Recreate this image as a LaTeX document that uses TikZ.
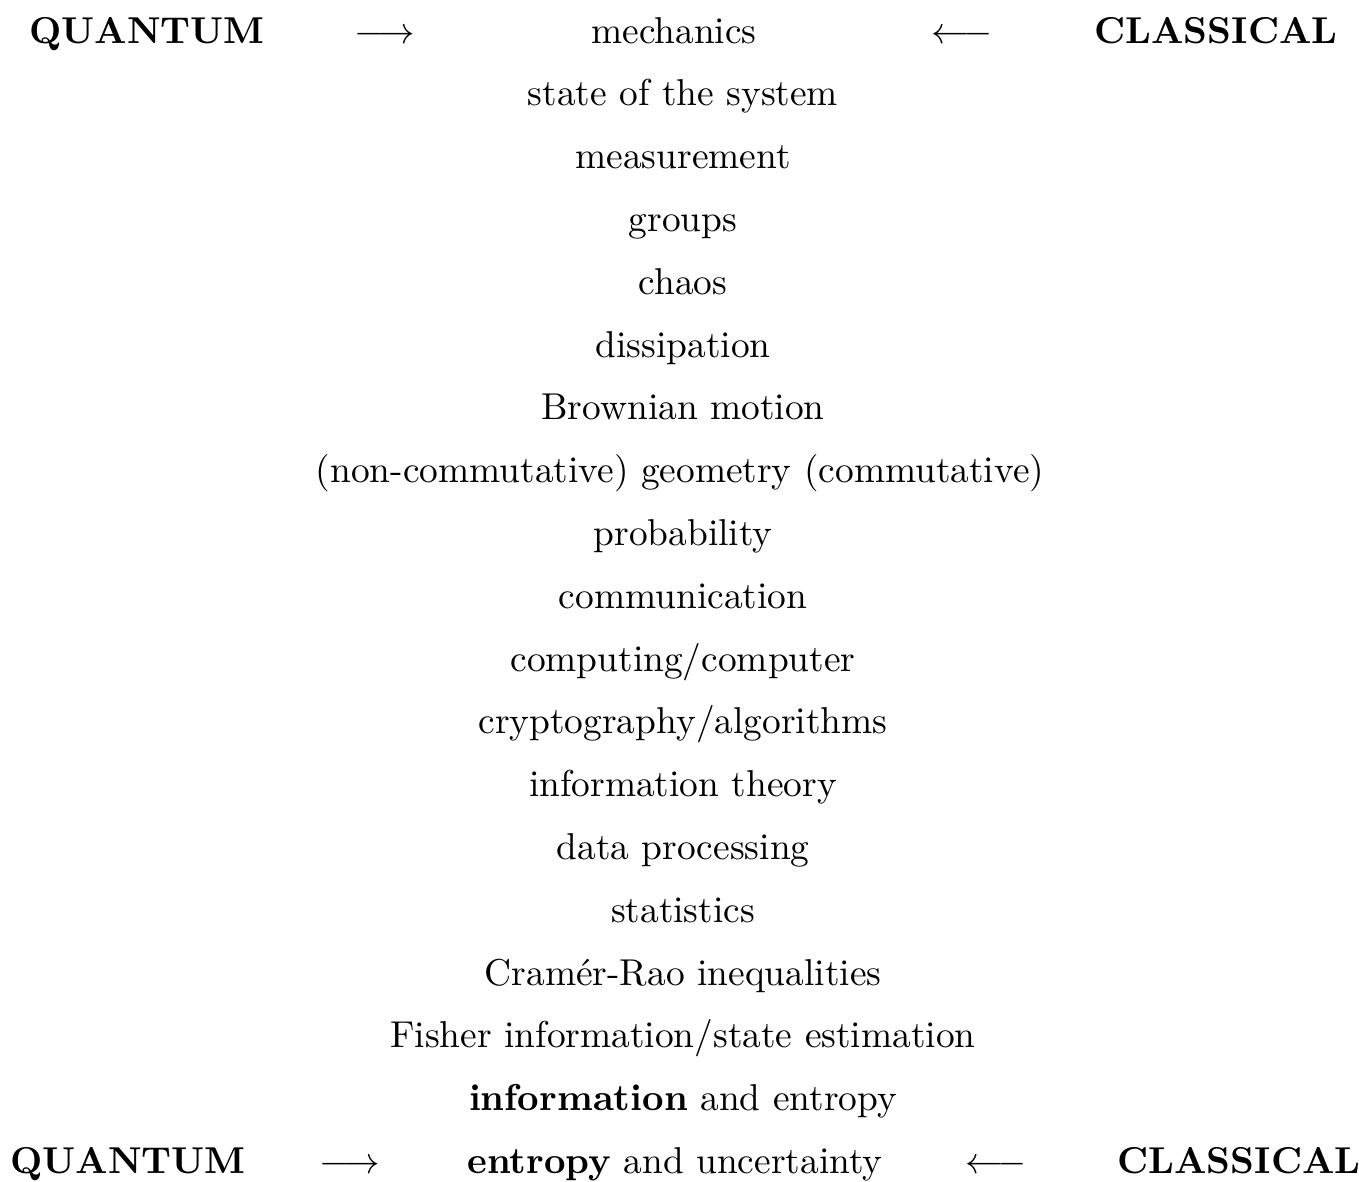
\documentclass[tikz,border=0pt]{standalone}
\usepackage{amsmath}
\begin{document}
\begin{tikzpicture}[x=0.26738pt,y=-0.26738pt,
  lbl/.style={anchor=base,inner sep=0pt,outer sep=0pt,font=\fontsize{10}{12}\selectfont},
  side/.style={lbl,font=\fontsize{10}{12}\selectfont\bfseries}]
\useasboundingbox (0,0) rectangle (1359,1181);
% top row
\node[side] (q1) at (147,43) {QUANTUM};
\node[lbl] (ra1) at (385,43) {$\longrightarrow$};
\node[lbl] (l0) at (674,43) {mechanics};
\node[lbl] (la1) at (962,43) {$\longleftarrow$};
\node[side] (c1) at (1216,43) {CLASSICAL};
% middle list
\node[lbl] (l1) at (683,105.8) {state of the system};
\node[lbl] (l2) at (683,168.6) {measurement};
\node[lbl] (l3) at (683,231.4) {groups};
\node[lbl] (l4) at (683,294.2) {chaos};
\node[lbl] (l5) at (683,357.0) {dissipation};
\node[lbl] (l6) at (683,419.8) {Brownian motion};
\node[lbl] (l7) at (680,482.6) {(non-commutative) geometry (commutative)};
\node[lbl] (l8) at (683,545.4) {probability};
\node[lbl] (l9) at (683,608.2) {communication};
\node[lbl] (l10) at (683,671.0) {computing/computer};
\node[lbl] (l11) at (683,733.8) {cryptography/algorithms};
\node[lbl] (l12) at (683,796.6) {information theory};
\node[lbl] (l13) at (683,859.4) {data processing};
\node[lbl] (l14) at (683,922.2) {statistics};
\node[lbl] (l15) at (683,985.0) {Cram\'er-Rao inequalities};
\node[lbl] (l16) at (683,1047.8) {Fisher information/state estimation};
\node[lbl] (l17) at (683,1110.6) {\textbf{information} and entropy};
% bottom row
\node[side] (q2) at (128,1173.4) {QUANTUM};
\node[lbl] (ra2) at (350,1173.4) {$\longrightarrow$};
\node[lbl] (l18) at (675,1173.4) {\textbf{entropy} and uncertainty};
\node[lbl] (la2) at (996,1173.4) {$\longleftarrow$};
\node[side] (c2) at (1239,1173.4) {CLASSICAL};
\end{tikzpicture}
\end{document}
